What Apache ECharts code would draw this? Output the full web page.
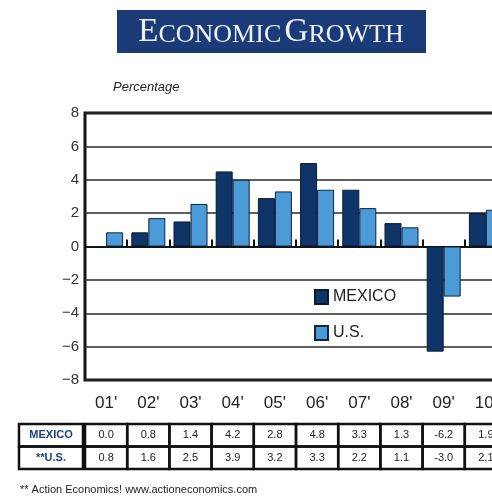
<!DOCTYPE html>
<html><head><meta charset="utf-8">
<script src="https://cdn.jsdelivr.net/npm/echarts@6/dist/echarts.min.js"></script>
<style>html,body{margin:0;padding:0;background:#fff;overflow:hidden;width:492px;height:499px}#c{width:520px;height:499px}</style>
</head><body><div id="c"></div>
<script>
const categories = ["01'", "02'", "03'", "04'", "05'", "06'", "07'", "08'", "09'", "10'"];
// bar heights as drawn in the picture
const mexicoBars = [0.0, 0.85, 1.5, 4.5, 2.9, 5.0, 3.4, 1.4, -6.3, 2.0];
const usBars = [0.85, 1.7, 2.55, 4.0, 3.3, 3.4, 2.3, 1.15, -3.0, 2.2];
// values printed in the table
const mexicoTable = ["0.0", "0.8", "1.4", "4.2", "2.8", "4.8", "3.3", "1.3", "-6.2", "1.9"];
const usTable = ["0.8", "1.6", "2.5", "3.9", "3.2", "3.3", "2.2", "1.1", "-3.0", "2.1"];
const rowLabels = ["MEXICO", "**U.S."];
const yTicks = { min: -8, max: 8, interval: 2 };

const NAVY = '#0f3468', LIGHT = '#4a9bd8';
const FONT = 'Liberation Sans Narrow, Liberation Sans, sans-serif';
const chart = echarts.init(document.getElementById('c'), null, { renderer: 'canvas' });
const GL = 85, GT = 113, GW = 422, GH = 267;
chart.setOption({
  animation: false,
  grid: { left: GL, top: GT, width: GW, height: GH, show: true, borderColor: '#111', borderWidth: 3, containLabel: false },
  legend: {
    orient: 'vertical', left: 314, top: 289, padding: 0, itemWidth: 13, itemHeight: 14, itemGap: 20,
    icon: 'rect', textStyle: { fontSize: 16, color: '#222', fontFamily: FONT },
    data: ['MEXICO', 'U.S.']
  },
  xAxis: [
    { type: 'category', data: categories, position: 'bottom', axisLine: { onZero: true, lineStyle: { color: '#111', width: 2 } },
      axisTick: { show: true, inside: true, length: 7, lineStyle: { color: '#111', width: 2 } }, axisLabel: { show: false } },
    { type: 'category', data: categories, position: 'bottom', axisLine: { show: false }, axisTick: { show: false },
      axisLabel: { margin: 15, fontSize: 17, color: '#222', fontFamily: FONT } }
  ],
  yAxis: {
    type: 'value', min: yTicks.min, max: yTicks.max, interval: yTicks.interval,
    axisLine: { show: false }, axisTick: { show: false },
    splitLine: { lineStyle: { color: '#2a2a2a', width: 1.5 } },
    axisLabel: { margin: 6, fontSize: 15, color: '#333', fontFamily: FONT,
      formatter: v => String(v).replace('-', '\u2212') }
  },
  series: [
    { name: 'MEXICO', type: 'bar', data: mexicoBars, barWidth: 17, barGap: '0%',
      itemStyle: { color: NAVY, borderColor: '#0a1a33', borderWidth: 1 } },
    { name: 'U.S.', type: 'bar', data: usBars, barWidth: 17,
      itemStyle: { color: LIGHT, borderColor: '#10233f', borderWidth: 1 } }
  ]
});

// build header, table and footer graphics
const g = [];
g.push({ type: 'rect', shape: { x: 117, y: 10, width: 309, height: 43 }, style: { fill: '#1a3b78' } });
g.push({ type: 'text', x: 271, y: 32, style: {
  text: '{a|E}{b|CONOMIC} {a|G}{b|ROWTH}', align: 'center', verticalAlign: 'middle',
  rich: {
    a: { fontSize: 33, fontFamily: 'Liberation Serif, serif', fill: '#eef2f6', verticalAlign: 'bottom', lineHeight: 34 },
    b: { fontSize: 26, fontFamily: 'Liberation Serif, serif', fill: '#eef2f6', verticalAlign: 'bottom', lineHeight: 34, padding: [0, 0, 1, 0] }
  } } });
g.push({ type: 'text', x: 113, y: 87, style: { text: 'Percentage', fontSize: 13, fontStyle: 'italic', fontFamily: FONT, fill: '#222', verticalAlign: 'middle' } });

const c0 = chart.convertToPixel({ xAxisIndex: 1 }, 0);
const c1 = chart.convertToPixel({ xAxisIndex: 1 }, 1);
const bw = c1 - c0;
const rowTop = 424, rowH = 22.5, labL = 19, labR = c0 - bw / 2 - 2;
const tables = [mexicoTable, usTable];
const border = { stroke: '#111', lineWidth: 2.5, fill: 'none' };
for (let r = 0; r < 2; r++) {
  const y = rowTop + r * rowH;
  g.push({ type: 'rect', shape: { x: labL, y: y, width: labR - labL, height: rowH }, style: border });
  g.push({ type: 'text', x: (labL + labR) / 2, y: y + rowH / 2, style: { text: rowLabels[r], align: 'center', verticalAlign: 'middle', fontSize: 11, fontWeight: 'bold', fill: '#1d3f82', fontFamily: 'Liberation Sans, sans-serif' } });
  for (let i = 0; i < categories.length; i++) {
    const cx = chart.convertToPixel({ xAxisIndex: 1 }, i);
    g.push({ type: 'rect', shape: { x: cx - bw / 2, y: y, width: bw, height: rowH }, style: border });
    g.push({ type: 'text', x: cx, y: y + rowH / 2, style: { text: tables[r][i], align: 'center', verticalAlign: 'middle', fontSize: 11, fill: '#222', fontFamily: FONT } });
  }
}
g.push({ type: 'text', x: 20, y: 490, style: { text: '** Action Economics! www.actioneconomics.com', fontSize: 11, fill: '#222', verticalAlign: 'middle', fontFamily: FONT } });
chart.setOption({ graphic: g });
</script></body></html>
